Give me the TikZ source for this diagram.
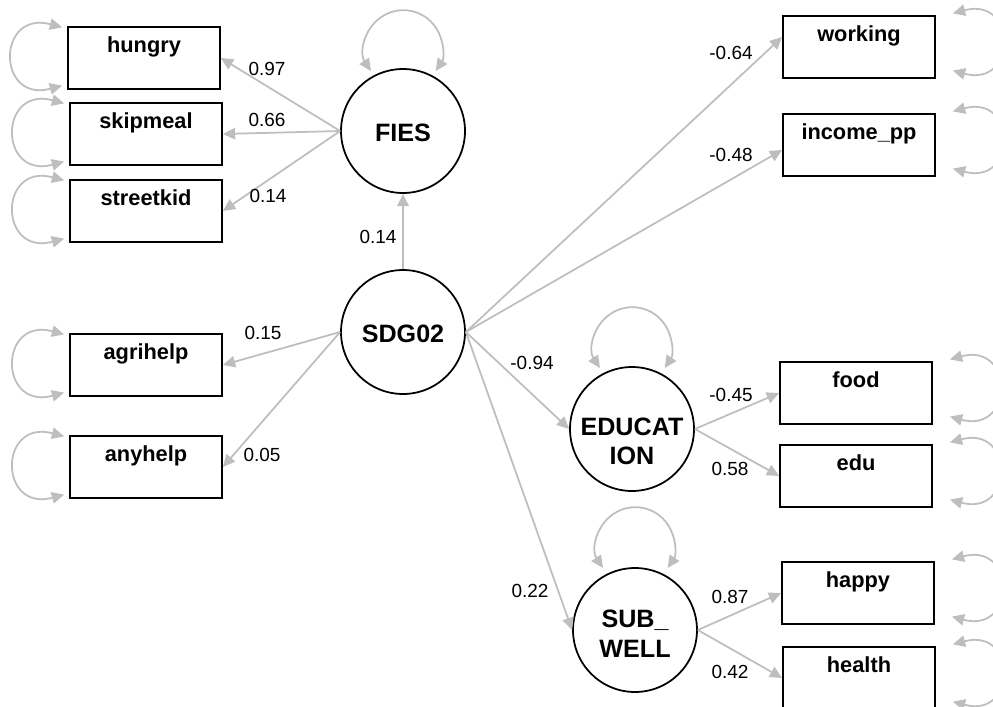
\documentclass[tikz,border=0pt]{standalone}
\usepackage{fontspec}
\setmainfont{Liberation Sans}
\usetikzlibrary{arrows.meta}
\definecolor{edgegray}{RGB}{190,190,190}

\tikzset{
  manifest/.style={draw, line width=1pt, inner sep=0pt, minimum width=3.04cm,
    text height=14.5pt, text depth=20.5pt, font=\fontsize{12.4}{14}\selectfont\bfseries},
  latent/.style={draw, circle, line width=1pt, minimum size=2.48cm, inner sep=0pt},
  lattext/.style={align=center, inner sep=0pt, font=\fontsize{14.3}{17}\selectfont\bfseries},
  regr/.style={draw=edgegray, line width=1pt, -{Triangle[length=7pt,width=6.5pt]}},
  resid/.style={draw=edgegray, line width=1pt,
    {Triangle[length=7pt,width=6.5pt]}-{Triangle[length=7pt,width=6.5pt]}},
  est/.style={inner sep=0pt, font=\fontsize{10.8}{12}\selectfont}
}

\begin{document}
\begin{tikzpicture}[x=0.02cm,y=0.02cm]
\useasboundingbox (0,0) rectangle (993,-706);
\clip (0,0) rectangle (993,-706);

\node[latent, label={[lattext,yshift=-1pt]center:FIES}] (fies) at (403,-131) {};
\node[latent, label={[lattext,yshift=-1pt]center:SDG02}] (sdg) at (403,-332) {};
\node[latent, label={[lattext,yshift=-7pt]center:EDUCAT\\ION}] (educ) at (632,-429) {};
\node[latent, label={[lattext,yshift=-2pt]center:SUB\_\\WELL}] (subwell) at (635,-630) {};

\node[manifest] (hungry) at (144,-58) {hungry};
\node[manifest] (skipmeal) at (146,-134) {skipmeal};
\node[manifest] (streetkid) at (146,-211) {streetkid};
\node[manifest] (agrihelp) at (146,-365) {agrihelp};
\node[manifest] (anyhelp) at (146,-467) {anyhelp};
\node[manifest] (working) at (859,-47) {working};
\node[manifest] (incomepp) at (859,-145) {income\_pp};
\node[manifest] (food) at (856,-393) {food};
\node[manifest] (edu) at (856,-476) {edu};
\node[manifest] (happy) at (858,-593) {happy};
\node[manifest] (health) at (859,-678) {health};

\draw[regr] (sdg.north) -- (fies.south);
\draw[regr] (fies.west) -- (hungry.east);
\draw[regr] (fies.west) -- (skipmeal.east);
\draw[regr] (fies.west) -- (streetkid.east);
\draw[regr] (sdg.west) -- (agrihelp.east);
\draw[regr] (sdg.west) -- (anyhelp.east);
\draw[regr] (sdg.east) -- ([shift={(0,10)}]working.west);
\draw[regr] (sdg.east) -- ([shift={(0,-5)}]incomepp.west);
\draw[regr] (sdg.east) -- (educ.west);
\draw[regr] (sdg.east) -- (subwell.west);
\draw[regr] (educ.east) -- (food.west);
\draw[regr] (educ.east) -- (edu.west);
\draw[regr] (subwell.east) -- (happy.west);
\draw[regr] (subwell.east) -- (health.west);

\node[est] (e1) at (378,-237) {0.14};
\node[est] (e2) at (267,-69) {0.97};
\node[est] (e3) at (267,-120) {0.66};
\node[est] (e4) at (268,-196) {0.14};
\node[est] (e5) at (263,-333) {0.15};
\node[est] (e6) at (262,-455) {0.05};
\node[est] (e7) at (731,-53) {-0.64};
\node[est] (e8) at (731,-155) {-0.48};
\node[est] (e9) at (532,-363) {-0.94};
\node[est] (e10) at (530,-591) {0.22};
\node[est] (e11) at (731,-395) {-0.45};
\node[est] (e12) at (730,-469) {0.58};
\node[est] (e13) at (730,-597) {0.87};
\node[est] (e14) at (730,-672) {0.42};

% variances
\foreach \b in {hungry,skipmeal,streetkid,agrihelp,anyhelp}
  \draw[resid] ([shift={(-5,-1)}]\b.north west) to[out=165,in=195,looseness=3] ([shift={(-5,4)}]\b.south west);
\foreach \b in {working,incomepp,food,edu,happy,health}
  \draw[resid] ([shift={(17,2)}]\b.north east) to[out=15,in=-15,looseness=3] ([shift={(17,8)}]\b.south east);
\draw[resid] ([shift={(-32,60)}]fies.center) arc[start angle=214,end angle=-34,radius=39];
\draw[resid] ([shift={(-32,61)}]educ.center) arc[start angle=214,end angle=-34,radius=39];
\draw[resid] ([shift={(-32,62)}]subwell.center) arc[start angle=214,end angle=-34,radius=39];
\end{tikzpicture}
\end{document}
